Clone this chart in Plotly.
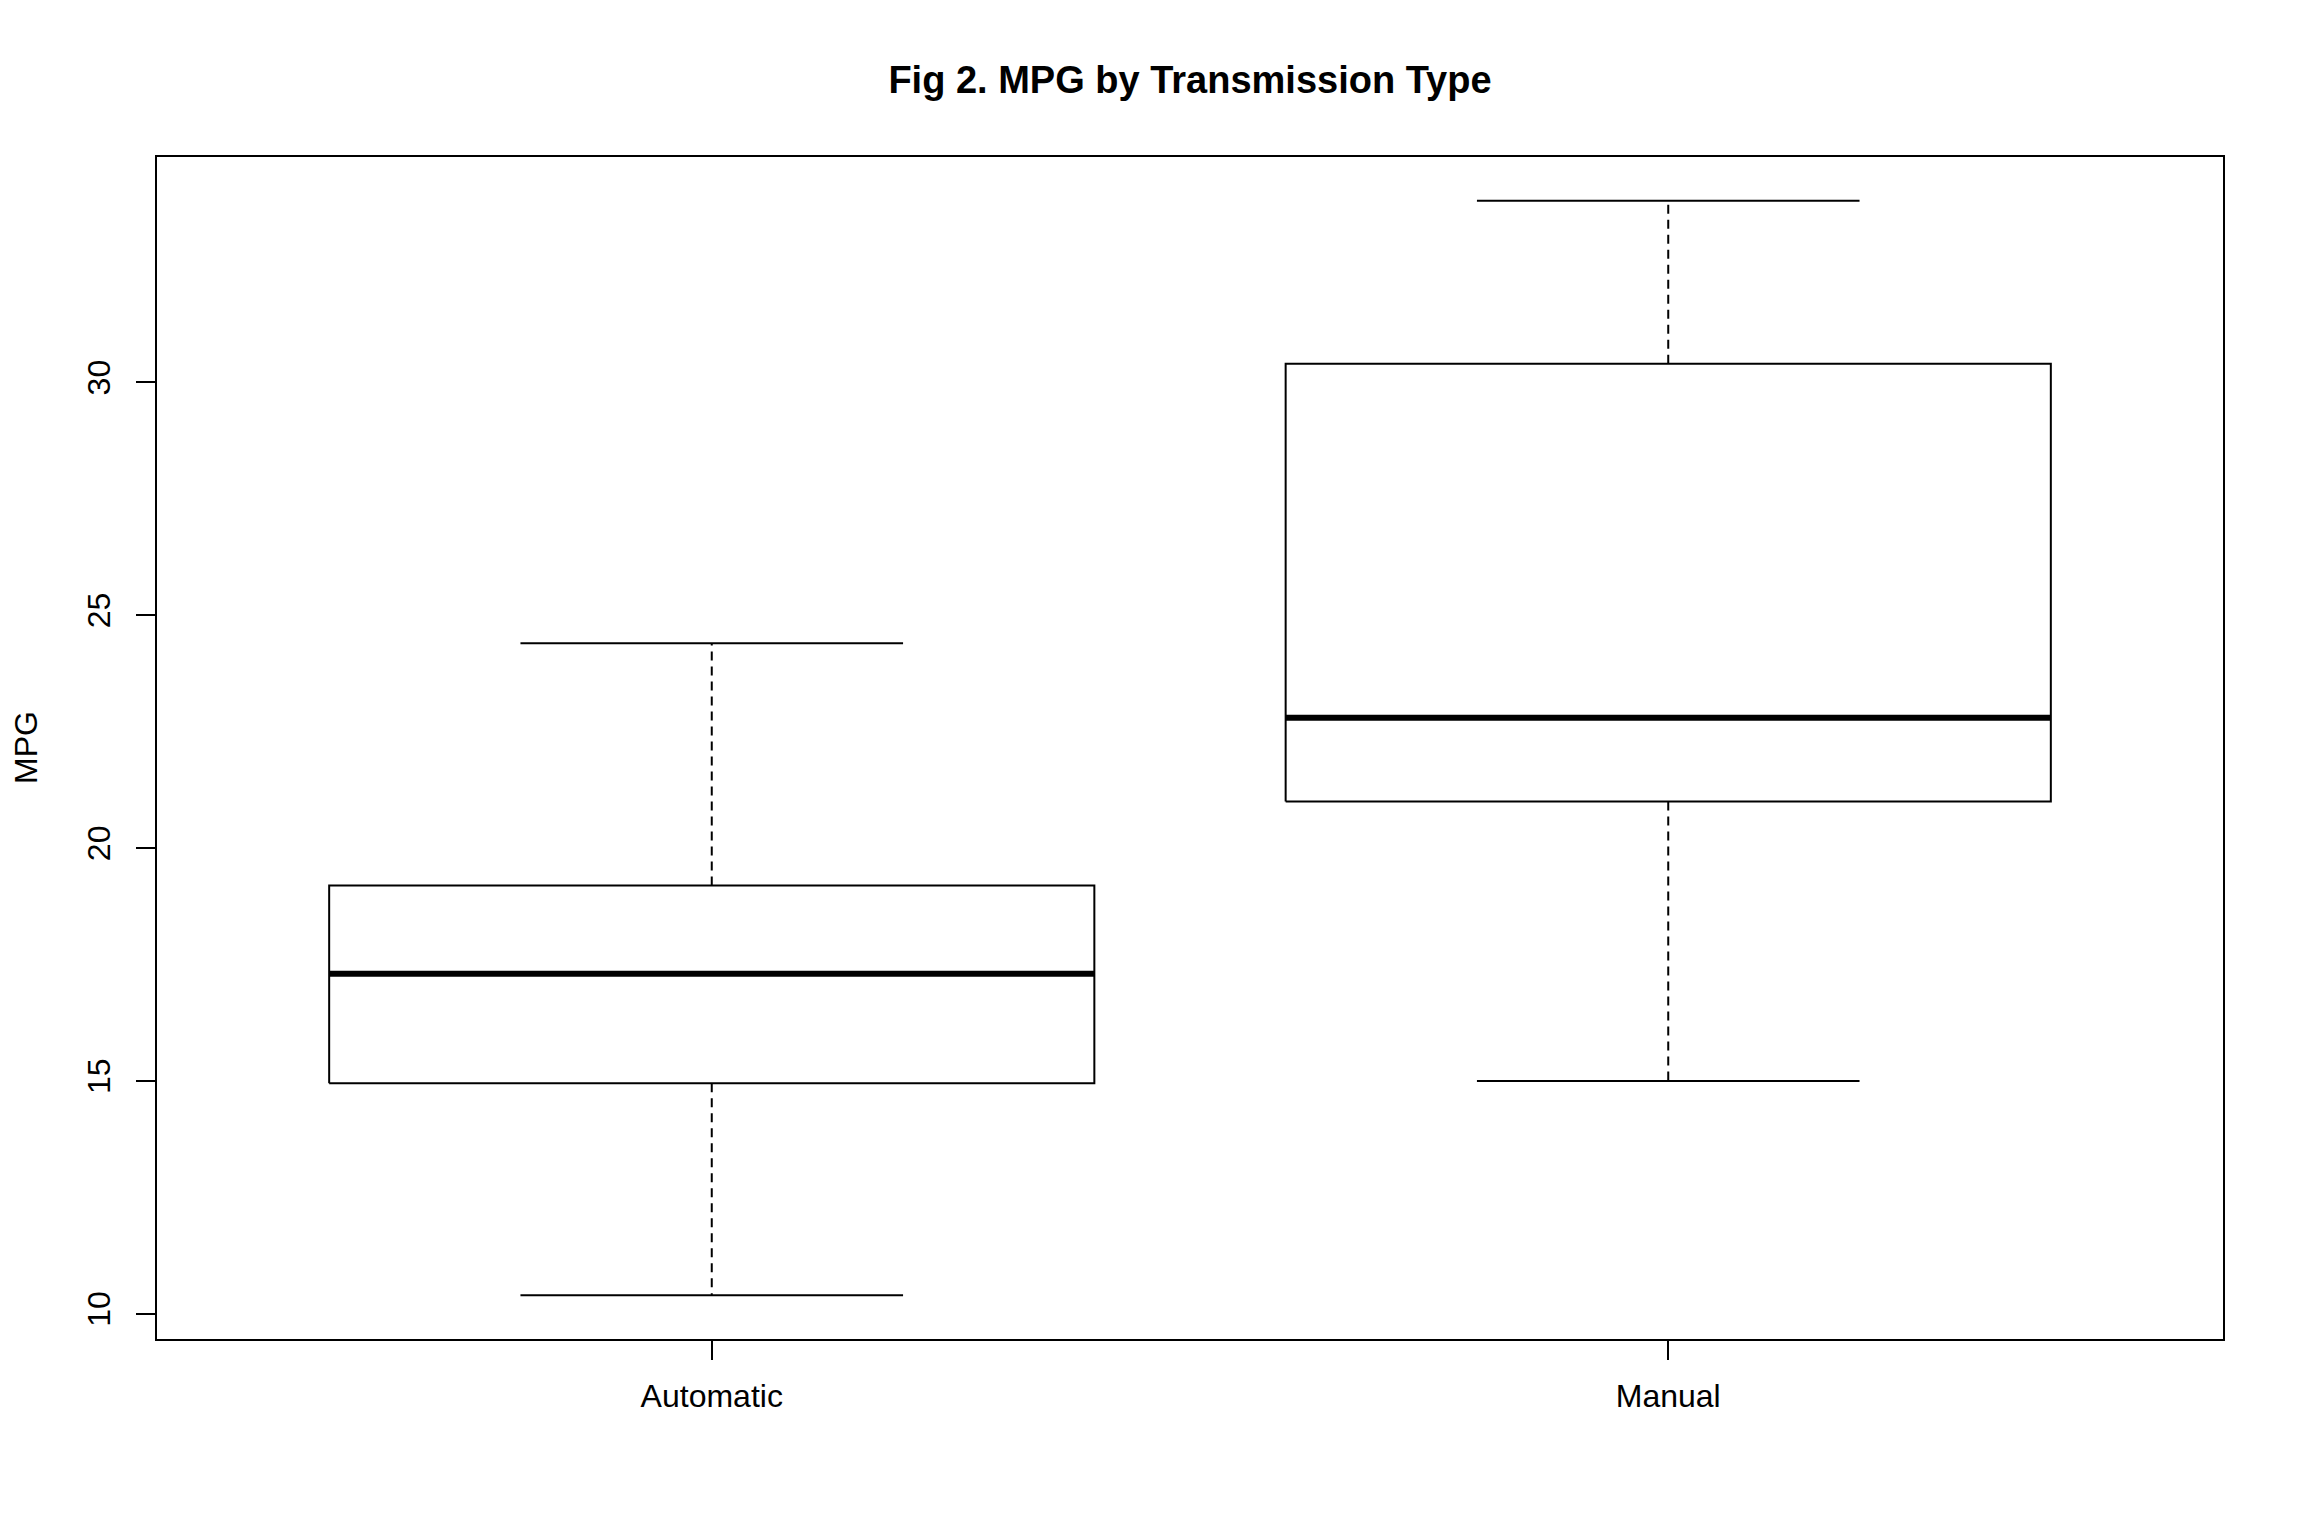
import plotly.graph_objects as go

categories = ["Automatic", "Manual"]
mins = [10.4, 15.0]
q1s = [14.95, 21.0]
medians = [17.3, 22.8]
q3s = [19.2, 30.4]
maxs = [24.4, 33.9]
y_ticks = [10, 15, 20, 25, 30]

BOX_HALF = 0.4
STAPLE_HALF = 0.2
positions = list(range(1, len(categories) + 1))

box_x, box_y = [], []
med_x, med_y = [], []
wh_x, wh_y = [], []
st_x, st_y = [], []
for p, lo, a, m, b, hi in zip(positions, mins, q1s, medians, q3s, maxs):
    box_x += [p - BOX_HALF, p + BOX_HALF, p + BOX_HALF, p - BOX_HALF, p - BOX_HALF, None]
    box_y += [a, a, b, b, a, None]
    med_x += [p - BOX_HALF, p + BOX_HALF, None]
    med_y += [m, m, None]
    wh_x += [p, p, None, p, p, None]
    wh_y += [b, hi, None, a, lo, None]
    st_x += [p - STAPLE_HALF, p + STAPLE_HALF, None, p - STAPLE_HALF, p + STAPLE_HALF, None]
    st_y += [hi, hi, None, lo, lo, None]

fig = go.Figure()
fig.add_trace(go.Scatter(x=wh_x, y=wh_y, mode="lines",
                         line=dict(color="black", width=2, dash="9px,6px"), hoverinfo="skip"))
fig.add_trace(go.Scatter(x=st_x, y=st_y, mode="lines",
                         line=dict(color="black", width=2), hoverinfo="skip"))
fig.add_trace(go.Scatter(x=box_x, y=box_y, mode="lines", fill="toself", fillcolor="white",
                         line=dict(color="black", width=2), hoverinfo="skip"))
fig.add_trace(go.Scatter(x=med_x, y=med_y, mode="lines",
                         line=dict(color="black", width=6), hoverinfo="skip"))

font_family = "Liberation Sans, Arial, sans-serif"
fig.update_layout(
    width=2304, height=1536,
    margin=dict(l=157, r=81, t=157, b=197),
    paper_bgcolor="white", plot_bgcolor="white",
    showlegend=False,
    font=dict(family=font_family, size=32, color="black"),
    title=dict(text="<b>Fig 2. MPG by Transmission Type</b>",
               font=dict(family=font_family, size=38, color="black"),
               x=0.5, xref="paper", xanchor="center",
               y=1 - 80 / 1536, yref="container", yanchor="middle"),
    xaxis=dict(range=[0.42, 2.58], tickvals=positions, ticktext=categories,
               showgrid=False, zeroline=False,
               showline=True, mirror=True, linecolor="black", linewidth=2,
               ticks="outside", ticklen=19, tickwidth=2, tickcolor="black",
               ticklabelstandoff=9, tickfont=dict(size=32)),
    yaxis=dict(range=[9.46, 34.84], tickvals=y_ticks, ticktext=[str(v) for v in y_ticks],
               showgrid=False, zeroline=False,
               showline=True, mirror=True, linecolor="black", linewidth=2,
               ticks="outside", ticklen=19, tickwidth=2, tickcolor="black",
               tickangle=-90, ticklabelstandoff=13, tickfont=dict(size=32)),
    annotations=[dict(text="MPG", xref="paper", yref="paper",
                      x=(26 - 157) / 2066, y=0.5, xanchor="center", yanchor="middle",
                      textangle=-90, showarrow=False, font=dict(size=32))],
)

fig.write_html("out.html")
